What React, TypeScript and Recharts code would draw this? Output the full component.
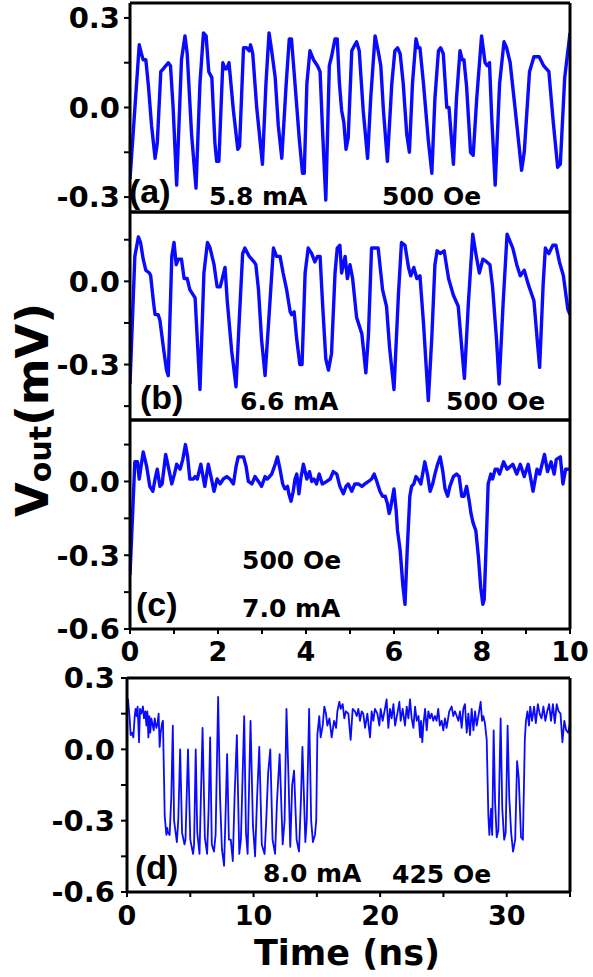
import React from 'react';
import { LineChart, Line, XAxis, YAxis } from 'recharts';

const FONT = '"DejaVu Sans", sans-serif';
const LABEL_FONT = '"Liberation Sans", Arial, sans-serif';
const BLUE = '#0a0aff';

// Panel (a): 5.8 mA, 500 Oe  [time ns, Vout mV]
const panelA: [number, number][] = [
  [0.00,-0.24],[0.21,0.21],[0.26,0.18],[0.30,0.16],[0.36,0.16],[0.42,0.07],[0.49,-0.06],[0.57,-0.17],[0.62,-0.12],[0.70,0.12],[0.76,0.13],[0.87,0.15],[0.92,0.14],[0.98,0.00],[1.06,-0.26],[1.17,0.16],[1.25,0.24],[1.30,0.18],[1.40,-0.09],[1.50,-0.27],[1.59,0.08],[1.67,0.25],[1.73,0.24],[1.79,0.12],[1.86,0.10],[1.93,-0.12],[1.97,-0.18],[2.02,-0.18],[2.11,0.15],[2.16,0.13],[2.20,0.13],[2.25,0.15],[2.35,-0.01],[2.45,-0.14],[2.49,-0.13],[2.58,0.20],[2.65,0.20],[2.71,0.19],[2.74,0.21],[2.79,0.18],[2.88,0.00],[3.01,-0.19],[3.09,0.08],[3.16,0.25],[3.22,0.19],[3.30,0.10],[3.37,-0.06],[3.45,-0.17],[3.55,0.08],[3.62,0.23],[3.67,0.23],[3.75,0.08],[3.85,-0.11],[3.92,-0.22],[3.96,-0.22],[4.02,0.08],[4.09,0.19],[4.17,0.16],[4.26,0.14],[4.32,0.12],[4.38,-0.09],[4.45,-0.31],[4.53,0.14],[4.58,0.17],[4.66,0.23],[4.71,0.23],[4.76,0.08],[4.81,-0.01],[4.86,-0.05],[4.91,-0.14],[4.96,-0.10],[5.04,0.19],[5.11,0.21],[5.15,0.22],[5.21,0.19],[5.30,-0.01],[5.40,-0.17],[5.47,0.03],[5.57,0.24],[5.64,0.19],[5.70,0.14],[5.76,-0.01],[5.85,-0.18],[5.95,0.08],[6.02,0.19],[6.08,0.20],[6.14,0.18],[6.21,0.08],[6.29,-0.09],[6.35,-0.15],[6.42,0.08],[6.50,0.23],[6.55,0.20],[6.59,0.20],[6.67,0.08],[6.78,-0.11],[6.86,-0.22],[6.93,0.03],[7.01,0.19],[7.06,0.20],[7.12,0.18],[7.20,0.00],[7.25,0.00],[7.35,-0.19],[7.42,0.03],[7.50,0.19],[7.55,0.16],[7.59,0.16],[7.65,0.07],[7.74,-0.15],[7.80,-0.16],[7.88,0.03],[7.99,0.24],[8.07,0.15],[8.12,0.14],[8.17,0.15],[8.22,-0.03],[8.30,-0.26],[8.40,0.08],[8.50,0.22],[8.56,0.20],[8.64,0.15],[8.75,0.00],[8.90,-0.21],[8.96,-0.15],[9.08,0.12],[9.18,0.17],[9.30,0.17],[9.40,0.14],[9.52,0.12],[9.62,-0.05],[9.72,-0.20],[9.78,-0.19],[9.88,0.10],[10.0,0.25]
];

// Panel (b): 6.6 mA, 500 Oe
const panelB: [number, number][] = [
  [0.00,-0.37],[0.11,0.09],[0.19,0.16],[0.24,0.14],[0.30,0.08],[0.36,0.04],[0.44,0.03],[0.47,0.02],[0.53,-0.07],[0.57,-0.12],[0.64,-0.12],[0.68,-0.14],[0.76,-0.24],[0.83,-0.32],[0.87,-0.34],[0.95,0.09],[1.00,0.14],[1.05,0.06],[1.10,0.08],[1.17,0.08],[1.23,0.01],[1.30,0.01],[1.36,-0.03],[1.44,-0.05],[1.48,-0.06],[1.53,-0.21],[1.59,-0.39],[1.68,0.03],[1.76,0.14],[1.82,0.12],[1.91,0.06],[1.98,-0.02],[2.05,-0.02],[2.16,0.05],[2.21,-0.07],[2.31,-0.25],[2.41,-0.38],[2.48,-0.15],[2.56,0.10],[2.61,0.12],[2.71,0.09],[2.82,0.07],[2.86,0.06],[2.92,-0.03],[2.99,-0.21],[3.07,-0.34],[3.17,-0.10],[3.26,0.12],[3.33,0.09],[3.41,0.09],[3.48,0.03],[3.56,-0.03],[3.64,-0.11],[3.67,-0.12],[3.73,-0.11],[3.79,-0.21],[3.86,-0.30],[3.91,-0.30],[3.98,0.03],[4.05,0.12],[4.13,0.10],[4.20,0.07],[4.26,0.09],[4.32,0.09],[4.38,-0.09],[4.45,-0.28],[4.51,-0.32],[4.58,-0.26],[4.66,0.03],[4.71,0.12],[4.77,0.13],[4.81,0.03],[4.89,0.09],[4.94,0.01],[5.00,0.06],[5.06,0.01],[5.15,-0.13],[5.27,-0.19],[5.36,-0.33],[5.42,-0.19],[5.49,0.12],[5.57,0.12],[5.64,0.12],[5.74,-0.03],[5.83,-0.09],[5.90,-0.24],[6.00,-0.39],[6.10,-0.05],[6.17,0.14],[6.25,0.13],[6.33,0.05],[6.38,0.02],[6.45,0.05],[6.52,0.01],[6.59,0.02],[6.67,-0.15],[6.78,-0.43],[6.86,-0.20],[6.93,0.06],[6.98,0.11],[7.05,0.10],[7.14,0.11],[7.24,0.01],[7.35,-0.05],[7.46,-0.09],[7.54,-0.24],[7.60,-0.35],[7.69,-0.08],[7.79,0.17],[7.86,0.10],[7.94,0.03],[8.02,0.08],[8.11,0.07],[8.18,0.06],[8.24,-0.02],[8.33,-0.21],[8.39,-0.37],[8.48,-0.08],[8.57,0.17],[8.70,0.12],[8.79,0.06],[8.87,0.02],[8.96,0.04],[9.05,-0.01],[9.18,-0.07],[9.26,-0.22],[9.31,-0.31],[9.39,-0.01],[9.44,0.12],[9.52,0.10],[9.61,0.13],[9.68,0.13],[9.76,0.07],[9.85,0.02],[9.95,-0.10],[10.0,-0.12]
];

// Panel (c): 7.0 mA, 500 Oe
const panelC: [number, number][] = [
  [0.00,-0.38],[0.11,0.08],[0.17,0.08],[0.21,0.01],[0.25,0.06],[0.30,0.12],[0.38,0.06],[0.45,-0.02],[0.52,-0.04],[0.57,0.01],[0.62,0.05],[0.68,-0.02],[0.73,-0.01],[0.81,0.11],[0.87,0.06],[0.95,-0.01],[1.01,0.03],[1.06,0.07],[1.14,0.05],[1.20,0.09],[1.26,0.15],[1.31,0.10],[1.36,0.01],[1.44,0.01],[1.48,0.02],[1.53,0.01],[1.61,0.07],[1.65,0.03],[1.70,-0.02],[1.78,0.07],[1.84,0.02],[1.91,-0.04],[1.98,0.01],[2.05,-0.01],[2.12,0.01],[2.20,0.02],[2.27,0.01],[2.35,-0.01],[2.41,0.06],[2.46,0.10],[2.58,0.10],[2.64,0.06],[2.69,0.00],[2.77,-0.01],[2.84,0.02],[2.92,0.00],[2.99,-0.02],[3.07,0.02],[3.12,0.01],[3.22,0.03],[3.30,0.07],[3.35,0.10],[3.41,0.05],[3.47,-0.01],[3.52,-0.03],[3.58,-0.02],[3.61,-0.05],[3.66,-0.08],[3.71,-0.04],[3.75,0.01],[3.79,0.03],[3.84,-0.05],[3.88,0.01],[3.94,0.07],[4.02,0.01],[4.08,0.04],[4.13,0.00],[4.18,0.01],[4.24,-0.01],[4.30,0.03],[4.37,-0.01],[4.47,0.00],[4.55,0.01],[4.62,0.04],[4.70,0.03],[4.77,-0.02],[4.85,-0.05],[4.91,-0.02],[4.96,-0.01],[5.04,-0.04],[5.11,-0.01],[5.19,-0.01],[5.27,-0.02],[5.34,-0.01],[5.42,0.00],[5.49,0.01],[5.55,0.03],[5.61,0.00],[5.68,-0.04],[5.74,-0.06],[5.80,-0.06],[5.85,-0.09],[5.89,-0.13],[5.92,-0.11],[5.97,-0.06],[6.00,-0.03],[6.05,-0.12],[6.08,-0.20],[6.14,-0.28],[6.20,-0.42],[6.25,-0.50],[6.30,-0.28],[6.36,-0.06],[6.40,-0.02],[6.45,-0.01],[6.50,0.02],[6.55,0.01],[6.61,-0.01],[6.65,0.03],[6.70,0.08],[6.76,0.03],[6.82,-0.04],[6.88,-0.01],[6.93,0.03],[6.99,0.07],[7.05,0.10],[7.11,0.04],[7.16,-0.03],[7.22,-0.06],[7.27,-0.02],[7.35,0.02],[7.42,0.03],[7.48,0.02],[7.54,-0.06],[7.59,-0.06],[7.65,-0.02],[7.71,-0.08],[7.75,-0.13],[7.80,-0.17],[7.86,-0.20],[7.92,-0.31],[7.97,-0.43],[8.02,-0.50],[8.05,-0.48],[8.09,-0.28],[8.14,-0.01],[8.20,0.03],[8.24,0.01],[8.30,0.05],[8.35,0.05],[8.40,0.03],[8.49,0.08],[8.57,0.05],[8.70,0.07],[8.79,0.03],[8.87,0.07],[8.96,0.02],[9.05,0.07],[9.16,-0.04],[9.25,0.05],[9.31,0.03],[9.42,0.11],[9.49,0.04],[9.57,0.08],[9.64,0.03],[9.69,0.09],[9.78,0.10],[9.84,-0.01],[9.90,0.05],[10.0,0.05]
];

// Panel (d): 8.0 mA, 425 Oe
const panelD: [number, number][] = [
  [0,0.19],[0.08,0.21],[0.21,0.13],[0.29,0.06],[0.40,0.07],[0.50,0.05],[0.61,0.14],[0.68,0.17],[0.76,0.14],[0.84,0.18],[0.95,0.03],[1.03,0.17],[1.13,0.15],[1.26,0.18],[1.34,0.13],[1.45,0.16],[1.53,0.10],[1.61,0.16],[1.69,0.05],[1.76,0.14],[1.84,0.07],[1.92,0.13],[2.00,0.11],[2.11,0.08],[2.19,0.13],[2.32,0.09],[2.42,0.11],[2.50,0.15],[2.58,0.01],[2.66,0.07],[2.77,0.11],[2.84,0.12],
  [2.98,-0.28],[3.11,-0.36],[3.18,-0.33],[3.24,-0.35],[3.37,-0.36],[3.50,-0.20],[3.62,0.10],[3.72,-0.30],[3.94,-0.39],[4.05,-0.30],[4.20,0.00],[4.35,-0.35],[4.54,-0.40],[4.62,-0.38],[4.82,0.00],[5.00,-0.38],[5.22,-0.44],[5.30,-0.40],[5.43,0.00],[5.55,-0.35],[5.73,-0.44],[5.97,0.09],[6.15,-0.37],[6.33,-0.44],[6.45,-0.25],[6.57,0.05],[6.70,-0.40],[6.87,-0.43],[7.00,-0.36],[7.20,0.22],[7.35,-0.20],[7.50,-0.42],[7.67,-0.49],[7.80,-0.25],[7.91,-0.02],[8.05,-0.38],[8.20,-0.38],[8.36,-0.47],[8.50,-0.20],[8.68,0.06],[8.87,-0.44],[9.00,-0.38],[9.26,0.14],[9.40,-0.35],[9.53,-0.44],[9.76,0.12],[9.95,-0.32],[10.12,-0.45],[10.28,-0.20],[10.45,0.01],[10.65,-0.40],[10.87,-0.44],[11.00,-0.30],[11.15,-0.10],[11.32,0.00],[11.50,-0.38],[11.70,-0.44],[11.85,-0.22],[12.06,-0.02],[12.30,-0.40],[12.45,-0.30],[12.60,0.17],[12.75,-0.10],[12.90,-0.41],[13.05,-0.15],[13.20,-0.09],[13.40,-0.38],[13.59,-0.43],[13.75,-0.20],[13.86,0.01],[14.09,-0.39],[14.20,-0.30],[14.39,0.17],[14.55,-0.30],[14.69,-0.39],[14.85,-0.36],[14.95,-0.30],
  [15.04,0.06],[15.19,0.14],[15.30,0.05],[15.46,0.10],[15.59,0.18],[15.72,0.15],[15.83,0.10],[15.99,0.13],[16.17,0.05],[16.36,0.12],[16.52,0.09],[16.62,0.16],[16.78,0.20],[16.88,0.17],[17.04,0.19],[17.17,0.13],[17.30,0.16],[17.49,0.15],[17.67,0.04],[17.83,0.17],[18.01,0.16],[18.15,0.14],[18.28,0.17],[18.41,0.12],[18.54,0.16],[18.67,0.15],[18.81,0.09],[18.99,0.15],[19.20,0.05],[19.33,0.16],[19.46,0.12],[19.59,0.17],[19.78,0.15],[19.94,0.10],[20.04,0.17],[20.20,0.12],[20.38,0.17],[20.51,0.21],[20.65,0.09],[20.78,0.17],[20.91,0.13],[21.05,0.19],[21.18,0.10],[21.36,0.15],[21.52,0.20],[21.62,0.12],[21.78,0.17],[21.96,0.10],[22.10,0.18],[22.23,0.13],[22.36,0.21],[22.49,0.13],[22.63,0.09],[22.76,0.18],[22.89,0.12],[23.03,0.14],[23.16,0.05],[23.23,0.12],[23.33,0.03],[23.41,0.10],[23.55,0.17],[23.68,0.08],[23.81,0.16],[23.94,0.13],[24.07,0.15],[24.20,0.12],[24.33,0.14],[24.46,0.12],[24.59,0.17],[24.72,0.10],[24.86,0.12],[24.99,0.08],[25.12,0.13],[25.25,0.09],[25.46,0.16],[25.65,0.18],[25.78,0.14],[25.91,0.16],[26.05,0.14],[26.18,0.12],[26.31,0.16],[26.44,0.09],[26.57,0.17],[26.70,0.19],[26.84,0.07],[26.97,0.15],[27.10,0.06],[27.23,0.17],[27.37,0.08],[27.50,0.16],[27.63,0.10],[27.76,0.14],[27.94,0.20],[28.05,0.12],[28.15,0.14],[28.28,0.11],[28.42,0.04],
  [28.55,-0.28],[28.63,-0.36],[28.76,-0.25],[28.85,-0.36],[28.97,0.08],[29.08,-0.22],[29.21,-0.37],[29.34,-0.34],[29.52,0.13],[29.65,-0.25],[29.80,-0.38],[29.92,-0.35],[30.07,0.10],[30.20,-0.20],[30.35,-0.35],[30.50,-0.43],[30.67,-0.38],[30.82,-0.05],[30.95,-0.12],[31.13,-0.37],[31.28,-0.38],[31.43,0.04],[31.52,0.12],[31.64,0.16],
  [31.76,0.10],[31.86,0.18],[32.00,0.12],[32.16,0.18],[32.30,0.11],[32.46,0.19],[32.60,0.15],[32.75,0.13],[32.90,0.18],[33.05,0.12],[33.20,0.16],[33.35,0.19],[33.50,0.12],[33.65,0.19],[33.80,0.11],[33.95,0.19],[34.10,0.16],[34.25,0.15],[34.40,0.03],[34.55,0.12],[34.70,0.08],[34.85,0.07],[35.00,0.11]
];

const yTicksA = [-0.3, -0.15, 0, 0.15, 0.3];
const yTicksB = [-0.45, -0.3, -0.15, 0, 0.15];
const yTicksC = [-0.6, -0.45, -0.3, -0.15, 0, 0.15];
const yTicksD = [-0.6, -0.45, -0.3, -0.15, 0, 0.15, 0.3];
const xTicksShort = [0, 1, 2, 3, 4, 5, 6, 7, 8, 9, 10];
const xTicksLong = [0, 5, 10, 15, 20, 25, 30, 35];

const tickStyle = { fill: '#000', fontSize: 29, fontFamily: FONT, fontWeight: 700 };
const xTickStyle = { fill: '#000', fontSize: 27, fontFamily: FONT, fontWeight: 700 };
const lineStyle = { stroke: '#000', strokeWidth: 3 };
const tickLineStyle = { stroke: '#000', strokeWidth: 2 };

const fmtY = (v: number) => {
  const major = Math.abs(Math.round(v / 0.3) * 0.3 - v) < 1e-6;
  return major ? (Math.abs(v) < 1e-9 ? '0.0' : v.toFixed(1)) : '';
};

type PanelProps = {
  data: [number, number][];
  top: number;
  height: number;
  marginTop: number;
  yAxisWidth: number;
  yDomain: [number, number];
  yTicks: number[];
  yTickMargin: number;
  xDomain: [number, number];
  xTicks: number[];
  xLabel: ((v: number) => string) | null;
  xAxisHeight: number;
  xTickMargin: number;
  strokeWidth: number;
};

function Panel(p: PanelProps) {
  const rows = p.data.map(([t, v]) => ({ t, v }));
  return (
    <div style={{ position: 'absolute', left: 0, top: p.top, width: 593, height: p.height }}>
      <LineChart width={593} height={p.height} data={rows} margin={{ top: p.marginTop, right: 23, left: 0, bottom: 0 }}>
        <XAxis
          xAxisId="b" dataKey="t" type="number" domain={p.xDomain} ticks={p.xTicks} interval={0}
          orientation="bottom" height={p.xAxisHeight} tickSize={5} tickMargin={p.xTickMargin}
          tick={p.xLabel ? xTickStyle : false} tickFormatter={p.xLabel || undefined}
          axisLine={lineStyle} tickLine={tickLineStyle} allowDataOverflow
        />
        <XAxis
          xAxisId="t" dataKey="t" type="number" domain={p.xDomain} ticks={p.xTicks} interval={0}
          orientation="top" mirror tick={false} tickSize={5}
          axisLine={lineStyle} tickLine={tickLineStyle} allowDataOverflow
        />
        <YAxis
          yAxisId="l" type="number" domain={p.yDomain} ticks={p.yTicks} interval={0}
          width={p.yAxisWidth} tickSize={6} tickMargin={p.yTickMargin} tick={tickStyle}
          tickFormatter={fmtY} axisLine={lineStyle} tickLine={tickLineStyle} allowDataOverflow
        />
        <YAxis
          yAxisId="r" orientation="right" mirror type="number" domain={p.yDomain} ticks={p.yTicks}
          interval={0} tick={false} tickSize={5} axisLine={lineStyle} tickLine={tickLineStyle} allowDataOverflow
        />
        <Line
          xAxisId="b" yAxisId="l" dataKey="v" type="linear" stroke={BLUE} strokeWidth={p.strokeWidth}
          dot={false} activeDot={false} isAnimationActive={false} strokeLinejoin="round"
        />
      </LineChart>
    </div>
  );
}

const annStyle: React.CSSProperties = { fontFamily: FONT, fontWeight: 700, fontSize: 25 } as any;
const panelLabelStyle: React.CSSProperties = { fontFamily: LABEL_FONT, fontWeight: 700, fontSize: 34 } as any;

export default function App() {
  return (
    <div style={{ position: 'absolute', left: 0, top: 0, width: 593, height: 977, background: '#fff' }}>
      <Panel data={panelA} top={0} height={240} marginTop={3} yAxisWidth={130}
        yDomain={[-0.35, 0.35]} yTicks={yTicksA} yTickMargin={4}
        xDomain={[0, 10]} xTicks={xTicksShort} xLabel={null} xAxisHeight={28} xTickMargin={4} strokeWidth={3.4} />
      <Panel data={panelB} top={192} height={258} marginTop={20} yAxisWidth={130}
        yDomain={[-0.5, 0.25]} yTicks={yTicksB} yTickMargin={4}
        xDomain={[0, 10]} xTicks={xTicksShort} xLabel={null} xAxisHeight={30} xTickMargin={4} strokeWidth={3.4} />
      <Panel data={panelC} top={400} height={279} marginTop={20} yAxisWidth={130}
        yDomain={[-0.6, 0.25]} yTicks={yTicksC} yTickMargin={4}
        xDomain={[0, 10]} xTicks={xTicksShort} xLabel={(v: number) => (v % 2 === 0 ? String(v) : '')}
        xAxisHeight={50} xTickMargin={8} strokeWidth={3.4} />
      <Panel data={panelD} top={653} height={279} marginTop={25} yAxisWidth={127}
        yDomain={[-0.6, 0.3]} yTicks={yTicksD} yTickMargin={6}
        xDomain={[0, 35]} xTicks={xTicksLong} xLabel={(v: number) => (v % 10 === 0 ? String(v) : '')}
        xAxisHeight={40} xTickMargin={9} strokeWidth={1.8} />
      <svg width={593} height={977} style={{ position: 'absolute', left: 0, top: 0, pointerEvents: 'none' }}>
        <g fill="#000">
          <text x={129} y={203} style={panelLabelStyle}>(a)</text>
          <text x={209} y={205} style={annStyle}>5.8 mA</text>
          <text x={382} y={205} style={annStyle}>500 Oe</text>

          <text x={140} y={409} style={panelLabelStyle}>(b)</text>
          <text x={240} y={410} style={annStyle}>6.6 mA</text>
          <text x={446} y={410} style={annStyle}>500 Oe</text>

          <text x={242} y={569} style={annStyle}>500 Oe</text>
          <text x={136} y={616} style={panelLabelStyle}>(c)</text>
          <text x={242} y={617} style={annStyle}>7.0 mA</text>

          <text x={135} y={879} style={panelLabelStyle}>(d)</text>
          <text x={263} y={882} style={annStyle}>8.0 mA</text>
          <text x={392} y={883} style={annStyle}>425 Oe</text>

          <text x={347} y={965} textAnchor="middle" style={{ fontFamily: FONT, fontWeight: 700, fontSize: 35 }}>Time (ns)</text>
          <text transform="translate(48,517) rotate(-90)" style={{ fontFamily: FONT, fontWeight: 700, fontSize: 45 }}>
            V<tspan fontSize={30} dy={3}>out</tspan><tspan dy={-3}>(mV)</tspan>
          </text>
        </g>
      </svg>
    </div>
  );
}
